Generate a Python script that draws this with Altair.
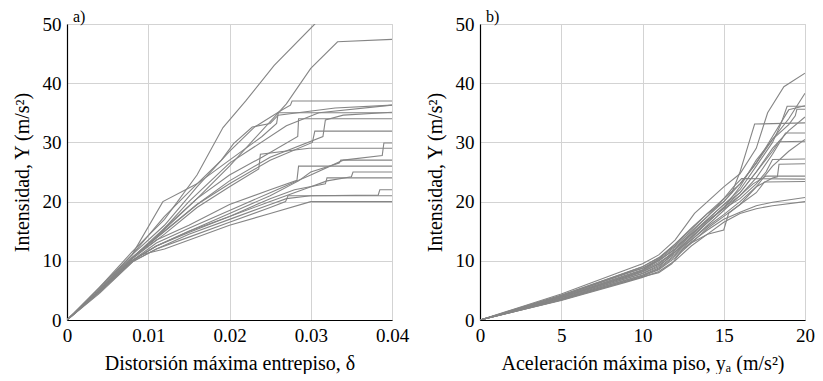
import altair as alt
import pandas as pd

# ---------------- Panel a: inter-storey drift vs intensity ----------------
A_CURVES = [
    ([0, 0.004, 0.008, 0.012, 0.016, 0.0192, 0.022, 0.0255, 0.0305, 0.034],
     [0, 5.5, 11.5, 17, 24.5, 32.5, 37, 43, 50, 55]),
    ([0, 0.004, 0.008, 0.011, 0.016, 0.020, 0.023, 0.027, 0.030, 0.0333, 0.04],
     [0, 5, 10.5, 14, 20.5, 26, 30.5, 36.5, 42.5, 47, 47.4]),
    ([0, 0.004, 0.008, 0.012, 0.016, 0.020, 0.023, 0.0265, 0.0275, 0.0277, 0.04],
     [0, 5, 11, 16, 22.5, 28.5, 32.5, 35.5, 36.3, 37, 37]),
    ([0, 0.0045, 0.008, 0.012, 0.016, 0.020, 0.024, 0.0258, 0.026, 0.04],
     [0, 6, 11, 17.5, 23, 27, 31, 33.2, 35, 35]),
    ([0, 0.004, 0.008, 0.0118, 0.016, 0.019, 0.0205, 0.0228, 0.025, 0.026, 0.033, 0.04],
     [0, 5.5, 11, 20, 23, 27, 29.8, 32.6, 33.2, 34.6, 35.8, 36.3]),
    ([0, 0.004, 0.008, 0.011, 0.015, 0.020, 0.027, 0.031, 0.04],
     [0, 5, 10.5, 14, 20, 26.5, 32.8, 35, 36.3]),
    ([0, 0.004, 0.008, 0.012, 0.016, 0.020, 0.024, 0.0284, 0.0285, 0.04],
     [0, 5, 10.5, 15.5, 20.5, 24.5, 27.5, 31, 34, 34]),
    ([0, 0.004, 0.008, 0.012, 0.016, 0.020, 0.025, 0.0315, 0.0318, 0.034, 0.04],
     [0, 5, 10.5, 15, 19.5, 23.5, 27.5, 31, 33.8, 34.6, 35.1]),
    ([0, 0.004, 0.008, 0.012, 0.016, 0.020, 0.025, 0.0302, 0.0305, 0.04],
     [0, 5, 10.5, 15, 19.5, 23, 27, 30, 31.9, 31.9]),
    ([0, 0.004, 0.008, 0.012, 0.016, 0.020, 0.0236, 0.0238, 0.0298, 0.04],
     [0, 5, 10.3, 14.5, 19, 22.5, 25.5, 28, 29, 29]),
    ([0, 0.004, 0.008, 0.011, 0.015, 0.020, 0.025, 0.030, 0.034, 0.0388, 0.039, 0.04],
     [0, 5, 10, 13, 15.5, 18.5, 21.5, 24.5, 27, 27.8, 29.9, 29.9]),
    ([0, 0.004, 0.008, 0.011, 0.015, 0.020, 0.025, 0.0285, 0.030, 0.0335, 0.0337, 0.04],
     [0, 5, 10, 12.5, 15, 18, 21, 23.5, 25, 26.5, 27, 27]),
    ([0, 0.004, 0.008, 0.011, 0.015, 0.020, 0.025, 0.0283, 0.0285, 0.04],
     [0, 5, 10.5, 13.5, 16, 19.5, 22, 23.6, 26, 26]),
    ([0, 0.004, 0.008, 0.011, 0.015, 0.020, 0.025, 0.029, 0.032, 0.035, 0.0352, 0.04],
     [0, 4.8, 10, 12.5, 15, 17.5, 20, 22, 23.5, 24.2, 25, 25]),
    ([0, 0.004, 0.008, 0.011, 0.015, 0.020, 0.025, 0.028, 0.0318, 0.032, 0.04],
     [0, 4.8, 10, 12.5, 14.8, 17.5, 20.5, 22, 23, 24, 24]),
    ([0, 0.004, 0.008, 0.011, 0.015, 0.020, 0.025, 0.027, 0.030, 0.0383, 0.0385, 0.04],
     [0, 4.7, 9.8, 12, 14.5, 17, 19.5, 20.5, 21, 21.1, 22, 22]),
    ([0, 0.004, 0.008, 0.011, 0.015, 0.020, 0.025, 0.0269, 0.0272, 0.04],
     [0, 4.7, 9.8, 12, 14, 16.5, 19, 20, 21, 21]),
    ([0, 0.004, 0.009, 0.012, 0.020, 0.025, 0.030, 0.04],
     [0, 4.5, 11, 12, 16, 18, 20, 20]),
]

# ---------------- Panel b: peak floor acceleration vs intensity ----------------
B_CURVES = [
    ([0, 5, 9, 10, 11, 12, 12.8, 13.2, 14, 15, 16, 17, 17.7, 18.7, 20],
     [0, 4.4, 8.5, 9.5, 11, 13.5, 16.5, 18, 20, 22.5, 24.7, 29, 35, 39.4, 41.7]),
    ([0, 5, 9, 10, 11, 12, 13, 14, 15, 16, 17, 18, 19, 20],
     [0, 4.2, 8, 9, 10.5, 12.5, 15, 17.5, 20, 23, 26.5, 30.5, 34, 38.3]),
    ([0, 5, 9, 10, 11, 12, 13, 14, 15, 16, 17, 18, 18.5, 18.9, 20],
     [0, 4, 7.8, 8.8, 10, 12, 14.5, 17, 19.5, 22, 26, 30, 33, 36.1, 36.1]),
    ([0, 5, 9, 10, 11, 12, 13, 14, 15, 16, 17, 18, 19, 19.4, 19.5, 20],
     [0, 3.8, 7.4, 8.3, 9.7, 11.5, 14, 16.5, 19, 22.5, 27, 30.5, 33, 34.5, 35.6, 35.6]),
    ([0, 5, 9, 10, 11, 12, 13, 14, 15, 16, 17, 18, 19, 20],
     [0, 3.9, 7.6, 8.5, 10.2, 12.3, 14.5, 17, 19.5, 21.5, 25, 29, 32, 34.3]),
    ([0, 5, 9, 10, 11, 12, 13, 14, 15, 15.5, 16, 16.5, 16.9, 20],
     [0, 4.1, 8, 9, 10.5, 12.8, 15.5, 18, 20, 21.5, 25, 29.5, 33.1, 33.3]),
    ([0, 5, 9, 10, 11, 12, 13, 14, 15, 16, 17, 18, 18.8, 20],
     [0, 3.7, 7.2, 8.1, 9.5, 11.5, 13.5, 16, 18.5, 21, 24, 28, 31.6, 31.6]),
    ([0, 5, 9, 10, 11, 12, 13, 14, 15, 16, 17, 18, 18.4, 20],
     [0, 3.6, 7, 7.9, 9.2, 11.2, 13.8, 16.5, 19, 21.5, 25, 28.5, 30.1, 30.2]),
    ([0, 5, 9, 10, 11, 12, 13, 14, 15, 16, 17, 17.6, 18, 20],
     [0, 3.8, 7.3, 8.2, 9.4, 11.8, 14.3, 16.8, 18.8, 20.5, 23, 25, 27.1, 27.2]),
    ([0, 5, 9, 10, 11, 12, 13, 14, 15, 16, 17, 18, 18.3, 18.4, 20],
     [0, 3.5, 6.8, 7.6, 8.8, 11, 13.5, 15.8, 17.8, 20, 22.5, 24, 24.2, 26.3, 26.4]),
    ([0, 5, 9, 10, 11, 12, 13, 14, 15, 16, 16.8, 17.6, 20],
     [0, 3.6, 7, 7.8, 9, 11.5, 14, 16.5, 19, 21, 23, 24.3, 24.3]),
    ([0, 5, 9, 10, 11, 12, 13, 14, 15, 15.6, 16.1, 20],
     [0, 3.9, 7.5, 8.4, 10, 12, 14.8, 17.5, 20.5, 22.5, 23.9, 23.8]),
    ([0, 5, 9, 10, 11, 12, 13, 14, 15, 16, 17, 17.5, 20],
     [0, 3.4, 6.6, 7.4, 8.5, 10.5, 13, 15.5, 17.5, 19.5, 21.5, 23.3, 23.4]),
    ([0, 5, 9, 10, 11, 12, 13, 14, 15, 16, 17, 18, 20],
     [0, 3.5, 6.7, 7.5, 8.6, 10.8, 13.2, 15.2, 17, 18.2, 19.3, 19.9, 20.7]),
    ([0, 5, 9, 10, 11, 12, 13, 14, 15, 16, 17, 18, 20],
     [0, 3.3, 6.4, 7.2, 8.2, 10, 12.5, 14.5, 16.5, 18, 18.8, 19.3, 20]),
    ([0, 5, 9, 10, 11, 11.8, 12.5, 13, 14, 15, 15.3, 16, 17, 18, 19, 20],
     [0, 3.4, 6.5, 7.3, 8, 9.5, 12, 13, 14.5, 15.2, 18, 19.5, 22.5, 26, 28.5, 30.5]),
    ([0, 5, 9, 10, 11, 12, 13, 14, 15, 16, 17, 18, 19, 20],
     [0, 4, 7.9, 8.7, 10.3, 12.8, 15.3, 18, 20.5, 23, 26.5, 31, 35.5, 36.2]),
]

A_XTICKS = [0, 0.01, 0.02, 0.03, 0.04]
B_XTICKS = [0, 5, 10, 15, 20]
Y_TICKS = [0, 10, 20, 30, 40, 50]

FONT = "Liberation Serif, DejaVu Serif, serif"


def frame(curves):
    rows = []
    for k, (xs, ys) in enumerate(curves):
        for i, (x, y) in enumerate(zip(xs, ys)):
            rows.append({"curve": k, "i": i, "x": x, "y": y})
    return pd.DataFrame(rows)


def panel(curves, xdom, xticks, fmt, xtitle, label):
    return alt.Chart(frame(curves)).mark_line(
        color="#858585", strokeWidth=1.1, clip=True
    ).encode(
        x=alt.X("x:Q", scale=alt.Scale(domain=xdom, nice=False, zero=False),
                axis=alt.Axis(values=xticks, format=fmt, title=xtitle)),
        y=alt.Y("y:Q", scale=alt.Scale(domain=[0, 50], nice=False),
                axis=alt.Axis(values=Y_TICKS, title="Intensidad, Y (m/s²)")),
        detail="curve:N",
        order="i:Q",
    ).properties(
        width=325, height=296,
        title=alt.TitleParams(label, anchor="start", frame="group", dx=6, offset=-10,
                              fontSize=16, font=FONT, fontWeight="normal", color="black"),
    )


pa = panel(A_CURVES, [0, 0.04], A_XTICKS, ".2~f", "Distorsión máxima entrepiso, δ", "a)")
pb = panel(B_CURVES, [0, 20], B_XTICKS, "d", "Aceleración máxima piso, yₐ (m/s²)", "b)")

chart = alt.hconcat(pa, pb, spacing=14).configure_view(
    stroke="#d0d0d0", strokeWidth=1
).configure_axis(
    domainColor="black", domainWidth=1.2, gridColor="#d3d3d3", gridWidth=1,
    ticks=False, labelFont=FONT, labelFontSize=19, labelColor="black",
    labelFlush=False, labelPadding=6, labelOverlap=False,
    titleFont=FONT, titleFontSize=20, titleFontWeight="normal", titleColor="black",
).configure_axisY(titlePadding=10).configure_axisX(titlePadding=8).properties(
    background="white", padding={"left": 3, "top": 0, "right": 0, "bottom": 0}
)

chart.save("out.html", embed_options={"renderer": "svg", "actions": False})
